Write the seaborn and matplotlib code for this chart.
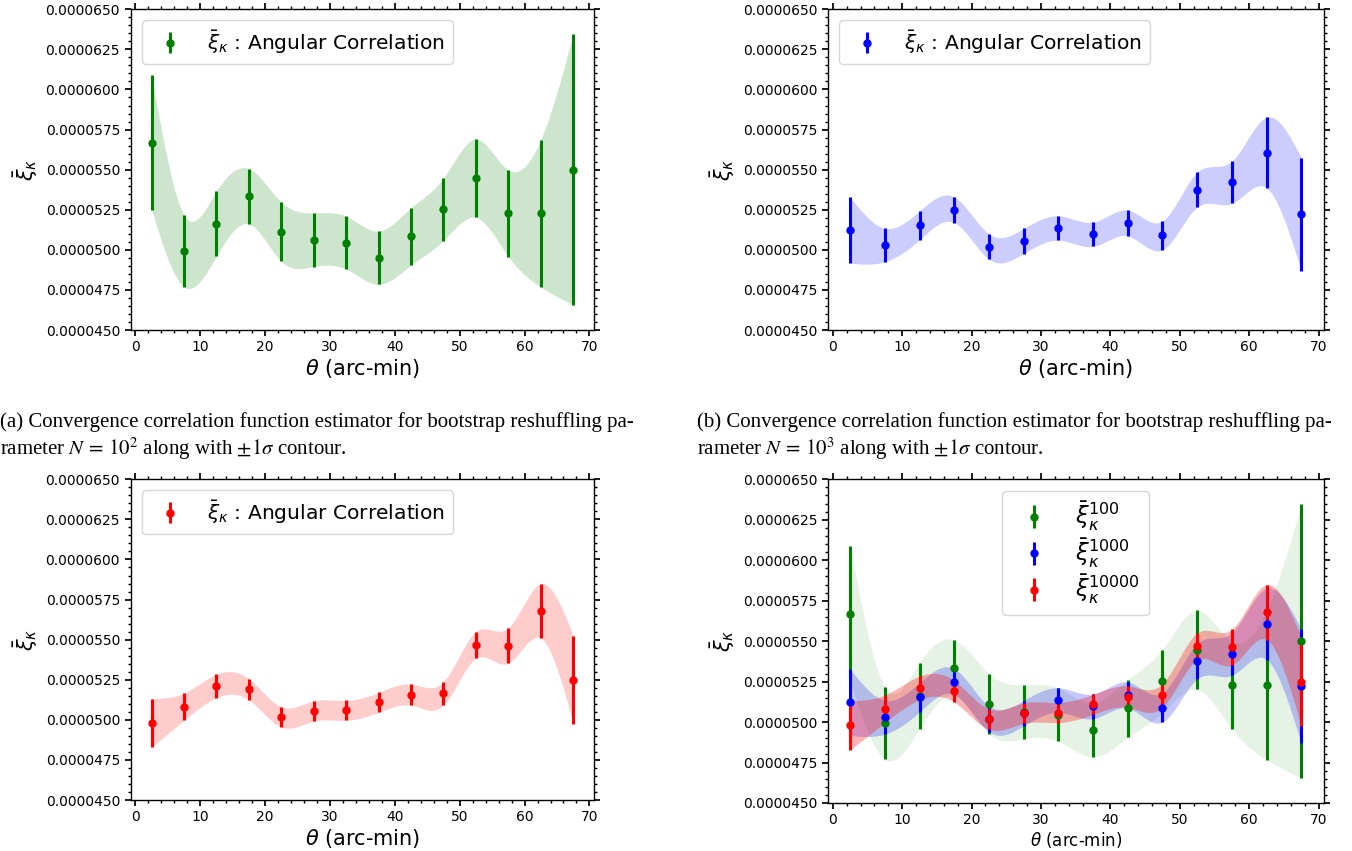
import numpy as np
import seaborn as sns
import matplotlib
matplotlib.use("Agg")
import matplotlib.pyplot as plt
from matplotlib.ticker import FormatStrFormatter, AutoMinorLocator

# angular bins (arc-min)
theta = [2.5, 7.5, 12.5, 17.5, 22.5, 27.5, 32.5, 37.5, 42.5, 47.5, 52.5, 57.5, 62.5, 67.5]

# bootstrap N = 100
xi_100 = [5.668e-5, 4.993e-5, 5.163e-5, 5.334e-5, 5.113e-5, 5.063e-5, 5.045e-5, 4.951e-5,
          5.084e-5, 5.253e-5, 5.446e-5, 5.228e-5, 5.228e-5, 5.500e-5]
err_100 = [4.20e-6, 2.24e-6, 2.03e-6, 1.72e-6, 1.85e-6, 1.67e-6, 1.65e-6, 1.66e-6,
           1.79e-6, 1.95e-6, 2.44e-6, 2.70e-6, 4.60e-6, 8.45e-6]

# bootstrap N = 1000
xi_1000 = [5.122e-5, 5.030e-5, 5.153e-5, 5.250e-5, 5.020e-5, 5.055e-5, 5.136e-5, 5.097e-5,
           5.167e-5, 5.090e-5, 5.375e-5, 5.421e-5, 5.606e-5, 5.222e-5]
err_1000 = [2.05e-6, 1.04e-6, 0.90e-6, 0.80e-6, 0.79e-6, 0.78e-6, 0.76e-6, 0.76e-6,
            0.80e-6, 0.90e-6, 1.09e-6, 1.32e-6, 2.20e-6, 3.53e-6]

# bootstrap N = 10000
xi_10000 = [4.980e-5, 5.082e-5, 5.211e-5, 5.190e-5, 5.018e-5, 5.055e-5, 5.059e-5, 5.109e-5,
            5.157e-5, 5.165e-5, 5.467e-5, 5.463e-5, 5.679e-5, 5.250e-5]
err_10000 = [1.52e-6, 0.85e-6, 0.73e-6, 0.66e-6, 0.63e-6, 0.63e-6, 0.62e-6, 0.62e-6,
             0.66e-6, 0.73e-6, 0.83e-6, 1.10e-6, 1.70e-6, 2.74e-6]

captions = [
    "(a) Convergence correlation function estimator for bootstrap reshuffling pa-\n"
    r"rameter $N\,=\,10^2$ along with $\pm1\sigma$ contour.",
    "(b) Convergence correlation function estimator for bootstrap reshuffling pa-\n"
    r"rameter $N\,=\,10^3$ along with $\pm1\sigma$ contour.",
]


def spline(x, y, xs):
    # natural cubic spline, used only to draw the smooth sigma contour
    x = np.asarray(x, float)
    y = np.asarray(y, float)
    n = len(x)
    h = np.diff(x)
    A = np.zeros((n, n))
    r = np.zeros(n)
    A[0, 0] = A[-1, -1] = 1
    for i in range(1, n - 1):
        A[i, i - 1] = h[i - 1]
        A[i, i] = 2 * (h[i - 1] + h[i])
        A[i, i + 1] = h[i]
        r[i] = 3 * ((y[i + 1] - y[i]) / h[i] - (y[i] - y[i - 1]) / h[i - 1])
    c = np.linalg.solve(A, r)
    b = (y[1:] - y[:-1]) / h - h * (2 * c[:-1] + c[1:]) / 3
    d = (c[1:] - c[:-1]) / (3 * h)
    idx = np.clip(np.searchsorted(x, xs) - 1, 0, n - 2)
    dx = xs - x[idx]
    return y[idx] + b[idx] * dx + c[idx] * dx ** 2 + d[idx] * dx ** 3


def draw(ax, xi, err, color, alpha, label):
    x = np.array(theta)
    y = np.array(xi)
    e = np.array(err)
    xs = np.linspace(x[0], x[-1], 400)
    ax.fill_between(xs, spline(x, y - e, xs), spline(x, y + e, xs),
                    color=color, alpha=alpha, lw=0)
    ax.errorbar(x, y, yerr=e, fmt="o", color=color, ms=5, elinewidth=2.2,
                capsize=0, label=label)


def style(ax, xfs=15):
    ax.set_ylim(4.5e-5, 6.5e-5)
    ax.set_yticks(np.arange(4.5e-5, 6.51e-5, 2.5e-6))
    ax.set_xticks(range(0, 71, 10))
    ax.yaxis.set_major_formatter(FormatStrFormatter("%.7f"))
    ax.xaxis.set_minor_locator(AutoMinorLocator(5))
    ax.yaxis.set_minor_locator(AutoMinorLocator(5))
    ax.tick_params(which="both", direction="out", top=True, right=True, labelsize=10)
    ax.tick_params(which="major", length=4)
    ax.tick_params(which="minor", length=2.5)
    ax.set_xlabel(r"$\theta$ (arc-min)", fontsize=xfs, labelpad=2)
    ax.set_ylabel(r"$\bar{\xi}_\kappa$", fontsize=15, labelpad=4)
    for s in ax.spines.values():
        s.set_linewidth(1.0)


black = {"text.color": "black", "axes.labelcolor": "black", "xtick.color": "black",
         "ytick.color": "black", "axes.edgecolor": "black"}
sns.set_theme(style="ticks", rc=black)
plt.rcParams["font.family"] = ["DejaVu Sans"]
plt.rcParams["mathtext.fontset"] = "dejavusans"

fig = plt.figure(figsize=(13.52, 8.51), dpi=100)
W, H = 1352, 851


def axes_px(l, t, r, b):
    return fig.add_axes([l / W, 1 - b / H, (r - l) / W, (b - t) / H])


ax_a = axes_px(130.5, 9.3, 594.3, 330)
ax_b = axes_px(827.6, 9.3, 1323.8, 330)
ax_c = axes_px(130.5, 479.3, 594.3, 800)
ax_d = axes_px(827.6, 479.3, 1323.8, 803)

lab = r"$\bar{\xi}_\kappa$ : Angular Correlation"
draw(ax_a, xi_100, err_100, "green", 0.2, lab)
draw(ax_b, xi_1000, err_1000, "blue", 0.2, lab)
draw(ax_c, xi_10000, err_10000, "red", 0.2, lab)
for ax in (ax_a, ax_b, ax_c):
    style(ax)
    ax.legend(loc="upper left", fontsize=14.6, borderaxespad=0.55)

draw(ax_d, xi_100, err_100, "green", 0.1, r"$\bar{\xi}_\kappa^{100}$")
draw(ax_d, xi_1000, err_1000, "blue", 0.22, r"$\bar{\xi}_\kappa^{1000}$")
draw(ax_d, xi_10000, err_10000, "red", 0.3, r"$\bar{\xi}_\kappa^{10000}$")
style(ax_d, xfs=12)
ax_d.legend(loc="upper center", fontsize=16.5, labelspacing=0.15, borderaxespad=0.5)

for xpos, txt in zip([0, 697], captions):
    fig.text(xpos / W, 1 - 412 / H, txt, ha="left", va="top", fontsize=15,
             family="Liberation Serif", math_fontfamily="stix", linespacing=1.2)

fig.savefig("out.png", dpi=100)
